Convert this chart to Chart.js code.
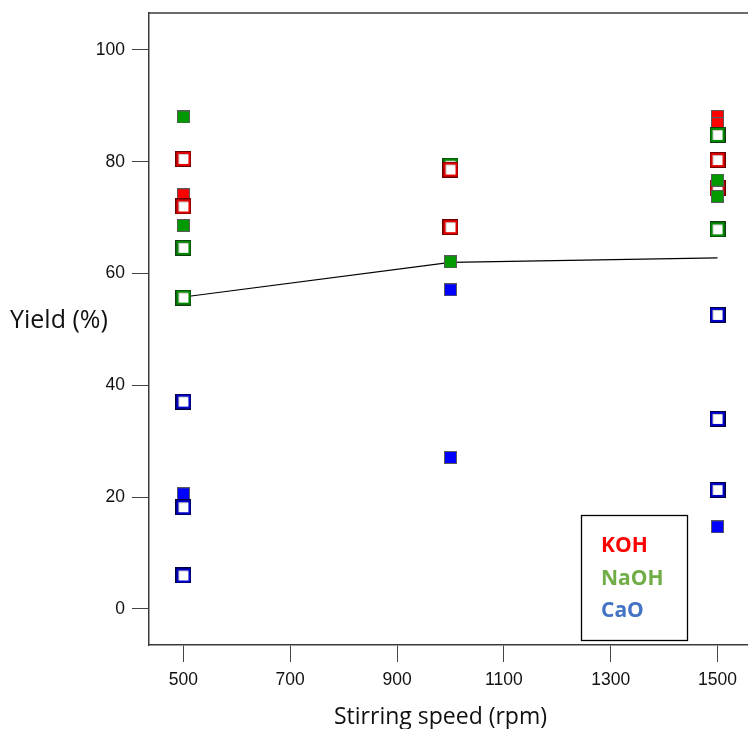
<!DOCTYPE html>
<html>
<head>
<meta charset="utf-8">
<script src="https://cdn.jsdelivr.net/npm/chart.js@4.4.1/dist/chart.umd.min.js"></script>
<style>
  html, body { margin: 0; padding: 0; background: #fff; }
  canvas { display: block; }
</style>
</head>
<body>
<canvas id="c" width="748" height="729"></canvas>
<script>
// ---- data (stirring speed rpm, yield %) ----
const kohFilled   = [[500, 74.1], [1500, 88.1], [1500, 86.8]];
const kohHollow   = [[500, 80.5], [500, 72.0], [1000, 78.6], [1000, 68.3], [1500, 80.3], [1500, 75.3]];
const naohFilled  = [[500, 88.0], [500, 68.6], [1000, 62.1], [1500, 76.7], [1500, 73.8]];
const naohHollow  = [[500, 64.6], [500, 55.7], [1000, 79.3], [1500, 84.8], [1500, 67.9]];
const caoFilled   = [[500, 20.6], [1000, 57.1], [1000, 27.1], [1500, 14.7]];
const caoHollow   = [[500, 37.1], [500, 18.2], [500, 6.0], [1500, 52.6], [1500, 34.0], [1500, 21.3]];
const fitLine     = [[500, 55.8], [1000, 62.0], [1500, 62.8]];

const xTicks = [500, 700, 900, 1100, 1300, 1500];
const yTicks = [0, 20, 40, 60, 80, 100];
const legendLabels = ['KOH', 'NaOH', 'CaO'];
const legendColors = ['#FF0000', '#70AD47', '#4472C4'];
const xTitle = 'Stirring speed (rpm)';
const yTitle = 'Yield (%)';

// ---- marker images ----
function hollowMarker(outline, band) {
  const s = 16, c = document.createElement('canvas');
  c.width = s; c.height = s;
  const g = c.getContext('2d');
  g.fillStyle = outline; g.fillRect(0, 0, s, s);
  g.fillStyle = band;    g.fillRect(1, 1, s - 2, s - 2);
  g.fillStyle = '#ffffff'; g.fillRect(3, 3, s - 6, s - 6);
  g.fillStyle = '#c8c8c8'; g.fillRect(3, 3, s - 6, 1); g.fillRect(3, 3, 1, s - 6);
  return c;
}
function filledMarker(fill) {
  const s = 13, c = document.createElement('canvas');
  c.width = s; c.height = s;
  const g = c.getContext('2d');
  g.fillStyle = '#5a5a5a'; g.fillRect(0, 0, s, s);
  g.fillStyle = fill;      g.fillRect(1, 1, s - 2, s - 2);
  return c;
}

const toXY = arr => arr.map(p => ({ x: p[0], y: p[1] }));
function pts(label, arr, img) {
  return { label, data: toXY(arr), pointStyle: img, pointRadius: 8, pointHoverRadius: 8, showLine: false };
}

const framePlugin = {
  id: 'frame',
  afterDraw(chart) {
    const { ctx, chartArea: a } = chart;
    ctx.save();
    ctx.strokeStyle = '#3a3a3a';
    ctx.lineWidth = 1.5;
    ctx.beginPath();
    ctx.moveTo(a.left, a.top); ctx.lineTo(a.right + 2, a.top);
    ctx.stroke();
    // axis titles
    ctx.fillStyle = '#111';
    ctx.textBaseline = 'alphabetic';
    ctx.textAlign = 'left';
    ctx.font = '25px "Open Sans", sans-serif';
    ctx.fillText(yTitle, 10, 327.5);
    ctx.textAlign = 'center';
    ctx.font = '23px "Open Sans", sans-serif';
    ctx.fillText(xTitle, 440.5, 724);
    // legend box
    ctx.lineWidth = 1.3;
    ctx.strokeStyle = '#000';
    ctx.strokeRect(581.5, 515.5, 106, 125);
    ctx.font = 'bold 21px "Open Sans", sans-serif';
    ctx.textAlign = 'left';
    const base = [552, 585, 617];
    legendLabels.forEach((t, i) => {
      ctx.fillStyle = legendColors[i];
      ctx.fillText(t, 601, base[i]);
    });
    ctx.restore();
  }
};

const tickFont = { family: '"Liberation Sans", Arial, sans-serif', size: 17.5 };

new Chart(document.getElementById('c'), {
  type: 'scatter',
  data: {
    datasets: [
      pts('NaOH', naohFilled, filledMarker('#009A00')),
      pts('KOH', kohHollow, hollowMarker('#6a0000', '#E00000')),
      pts('NaOH', naohHollow, hollowMarker('#0f3d0f', '#008A00')),
      pts('KOH', kohFilled, filledMarker('#FF0000')),
      pts('CaO', caoHollow, hollowMarker('#000040', '#0000C8')),
      pts('CaO', caoFilled, filledMarker('#0000FF')),
      { label: 'fit', data: toXY(fitLine), showLine: true, pointRadius: 0, borderColor: '#000', borderWidth: 1.2, tension: 0 }
    ]
  },
  options: {
    responsive: false,
    animation: false,
    events: [],
    devicePixelRatio: 1,
    layout: { autoPadding: false, padding: { left: 0, top: 13, right: 0, bottom: 0 } },
    plugins: { legend: { display: false }, tooltip: { enabled: false } },
    scales: {
      x: {
        type: 'linear',
        min: 435.6, max: 1557.1,
        afterBuildTicks: s => { s.ticks = xTicks.map(v => ({ value: v })); },
        afterFit: s => { s.height = 84; s.paddingLeft = 0; s.paddingRight = 0; },
        grid: { display: true, drawOnChartArea: false, drawTicks: true, tickLength: 17, tickColor: '#444', tickWidth: 1 },
        border: { display: true, color: '#3a3a3a', width: 1.5 },
        ticks: { color: '#111', font: tickFont, padding: 8, maxRotation: 0, autoSkip: false, callback: v => String(v) }
      },
      y: {
        type: 'linear',
        min: -6.44, max: 106.6,
        afterBuildTicks: s => { s.ticks = yTicks.map(v => ({ value: v })); },
        afterFit: s => { s.width = 149; s.paddingTop = 0; s.paddingBottom = 0; },
        grid: { display: true, drawOnChartArea: false, drawTicks: true, tickLength: 17, tickColor: '#444', tickWidth: 1 },
        border: { display: true, color: '#3a3a3a', width: 1.5 },
        ticks: { color: '#111', font: tickFont, padding: 7, autoSkip: false, callback: v => String(v) }
      }
    }
  },
  plugins: [framePlugin]
});
</script>
</body>
</html>
